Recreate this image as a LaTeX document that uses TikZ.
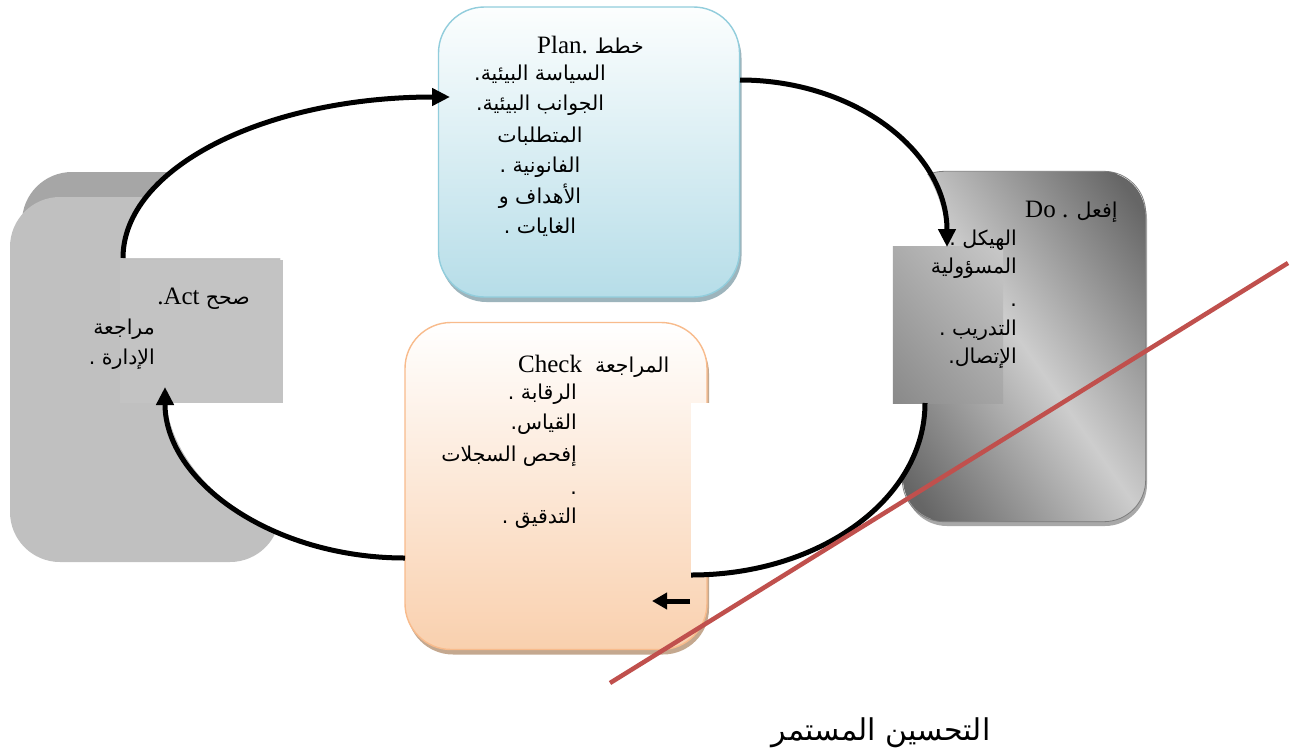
\documentclass[tikz,border=0pt]{standalone}
\usepackage{fontspec}
\setmainfont{Liberation Serif}
\newfontfamily\arabicfont[Script=Arabic]{DejaVu Sans}
\TeXXeTstate=1
\usetikzlibrary{arrows.meta,shadows,calc}
\definecolor{plantop}{HTML}{FCFEFE}
\definecolor{planbot}{HTML}{B6DDE8}
\definecolor{planborder}{HTML}{92CDDC}
\definecolor{planshadow}{HTML}{9DB4BC}
\definecolor{chktop}{HTML}{FFFFFF}
\definecolor{chkbot}{HTML}{F9D0AE}
\definecolor{chkborder}{HTML}{F8BB8C}
\definecolor{chkshadow}{HTML}{C4A88F}
\definecolor{dodark}{HTML}{666666}
\definecolor{dolight}{HTML}{CDCDCD}
\definecolor{doshadow}{HTML}{A8A8A8}
\definecolor{dotxtdark}{HTML}{888888}
\definecolor{dotxtlight}{HTML}{C9C9C9}
\definecolor{actmain}{HTML}{C0C0C0}
\definecolor{actback}{HTML}{A6A6A6}
\definecolor{acttext}{HTML}{C3C3C3}
\definecolor{redline}{HTML}{C0504D}
\newcommand\artxt[1]{{\arabicfont\beginR #1\endR}}
\newcommand\arsz{\fontsize{20.5}{24}\selectfont}
\newcommand\lasz{\fontsize{25}{30}\selectfont}
\begin{document}
\begin{tikzpicture}[x=1pt,y=-1pt,
  box/.style={rectangle, rounded corners=46pt, inner sep=0pt, line width=1.4pt},
  planbox/.style={box, draw=planborder, top color=plantop, bottom color=planbot,
    minimum width=301pt, minimum height=290pt,
    drop shadow={shadow xshift=2pt, shadow yshift=-5pt, fill=planshadow, opacity=1}},
  chkbox/.style={box, draw=chkborder, top color=chktop, bottom color=chkbot,
    minimum width=302pt, minimum height=327pt,
    drop shadow={shadow xshift=2pt, shadow yshift=-5pt, fill=chkshadow, opacity=1}},
  dobox/.style={box, rounded corners=42pt, fill=dodark,
    minimum width=242pt, minimum height=349pt,
    drop shadow={shadow xshift=2pt, shadow yshift=-5pt, fill=doshadow, opacity=1}},
  doedge/.style={rounded corners=42pt, draw=dodark!85, line width=0.8pt},
  actface/.style={box, rounded corners=50pt, fill=actmain, minimum width=270pt, minimum height=365pt},
  actbackface/.style={box, rounded corners=50pt, fill=actback, minimum width=258pt, minimum height=365pt},
  overlay/.style={rectangle, inner sep=0pt},
  pie/.style={fill=white},
  conn/.style={line width=5pt, black},
  tip/.style={-{Triangle[length=18pt,width=17pt]}},
  redstroke/.style={line width=4.5pt, redline},
  ar/.style={inner sep=0pt, font=\arabicfont\arsz},
  ti/.style={inner sep=0pt},
  big/.style={inner sep=0pt, font=\arabicfont\fontsize{30}{36}\selectfont}
]
\useasboundingbox (0,0) rectangle (1298,755);
\fill[white] (0,0) rectangle (1298,755);

% Act box (3D)
\node[actbackface] (actback) at (151,354.5) {};
\node[actface] (act) at (145,379.5) {};

% Do box with diagonal gradient (dark top-right and bottom-left)
\node[dobox] (do) at (1024,346.5) {};
\begin{scope}
  \clip[rounded corners=42pt] (do.south west) rectangle (do.north east);
  \shade[transform canvas={rotate around={-55:(do.center)}},
    top color=dodark, bottom color=dodark, middle color=dolight]
    ($(do.center)+(-280,-175)$) rectangle ($(do.center)+(280,175)$);
\end{scope}
\draw[doedge] (do.south west) rectangle (do.north east);

% connector end points
\coordinate (a1s) at (123,258);
\coordinate (a1e) at (450,97);
\coordinate (a2s) at (740,80);
\coordinate (a2e) at (947,247);
\coordinate (a3s) at (925,403);
\coordinate (a3e) at (691,575);
\coordinate (a4s) at (405,558);
\coordinate (a4e) at (165,387);
\coordinate (sas) at (690,601);
\coordinate (sae) at (652,601);

% white inner sectors of the cycle
\fill[pie] (a1s) .. controls +(0,-90) and +(-185,0) .. (a1e) -- (a1e |- a1s) -- cycle;
\fill[pie] (a2s) .. controls +(115,0) and +(0,-95) .. (a2e) -- (a2s |- a2e) -- cycle;
\fill[pie] (a4s) .. controls +(-132,0) and +(0,95) .. (a4e) -- (a4s |- a4e) -- cycle;

% Plan box
\node[planbox] (plan) at (589,152) {};

% Check box
\node[chkbox] (check) at (556,486) {};
\fill[pie] (a3s) .. controls +(0,95) and +(130,0) .. (a3e) -- (a3e |- a3s) -- cycle;

% text boxes
\node[overlay, fill=acttext, minimum width=163pt, minimum height=143pt] (acttxt) at (201.5,331.5) {};
\node[overlay, minimum width=110pt, minimum height=156pt] (dotxt) at (948,325) {};
\begin{scope}
  \clip (dotxt.south west) rectangle (dotxt.north east);
  \shade[transform canvas={rotate around={-50:(dotxt.center)}},
    top color=dotxtlight, bottom color=dotxtdark]
    ($(dotxt.center)+(-110,-95)$) rectangle ($(dotxt.center)+(110,95)$);
\end{scope}

% connectors
\draw[conn, tip] (a1s) .. controls +(0,-90) and +(-185,0) .. (a1e);
\draw[conn, tip] (a2s) .. controls +(115,0) and +(0,-95) .. (a2e);
\draw[conn] (a3s) .. controls +(0,95) and +(130,0) .. (a3e);
\draw[conn, tip] (a4s) .. controls +(-132,0) and +(0,95) .. (a4e);
\draw[conn, -{Triangle[length=15pt,width=16pt]}] (sas) -- (sae);

% red line
\coordinate (r1) at (610,683);
\coordinate (r2) at (1288,263);
\draw[redstroke] (r1) -- (r2);

% Plan texts
\node[ti, anchor=base west] (plantitle) at (537,53) {\lasz Plan.\hspace{7pt}\arsz\artxt{خطط}};
\node[ar, anchor=base] (p1) at (540,80) {\artxt{السياسة البيئية.}};
\node[ar, anchor=base] (p2) at (540,110) {\artxt{الجوانب البيئية.}};
\node[ar, anchor=base] (p3) at (540,142) {\artxt{المتطلبات}};
\node[ar, anchor=base] (p4) at (540,172) {\artxt{الفانونية .}};
\node[ar, anchor=base] (p5) at (540,203) {\artxt{الأهداف و}};
\node[ar, anchor=base] (p6) at (540,233) {\artxt{الغايات .}};

% Do texts
\node[ti, anchor=base west] (dotitle) at (1025,217) {\lasz Do . \arsz\artxt{إفعل}};
\node[ar, anchor=base east] (d1) at (1017,245) {\artxt{الهيكل .}};
\node[ar, anchor=base east] (d2) at (1017,273) {\artxt{المسؤولية}};
\node[ar, anchor=base east] (d3) at (1017,306) {.};
\node[ar, anchor=base east] (d4) at (1017,335) {\artxt{التدريب .}};
\node[ar, anchor=base east] (d5) at (1017,363) {\artxt{الإتصال.}};

% Act texts
\node[ti, anchor=base east] (acttitle) at (250,304) {\lasz .Act \arsz\artxt{صحح}};
\node[ar, anchor=base east] (t1) at (155,334) {\artxt{مراجعة}};
\node[ar, anchor=base east] (t2) at (155,364) {\artxt{الإدارة .}};

% Check texts
\node[ti, anchor=base west] (chktitle) at (518,372) {\lasz Check\hspace{13pt}\arsz\artxt{المراجعة}};
\node[ar, anchor=base east] (c1) at (577,399) {\artxt{الرقابة .}};
\node[ar, anchor=base east] (c2) at (577,429) {\artxt{القياس.}};
\node[ar, anchor=base east] (c3) at (577,461) {\artxt{إفحص السجلات}};
\node[ar, anchor=base east] (c4) at (577,494) {.};
\node[ar, anchor=base east] (c5) at (577,523) {\artxt{التدقيق .}};

% bottom caption
\node[big, anchor=base] (caption) at (881,740) {\artxt{التحسين المستمر}};
\end{tikzpicture}
\end{document}
